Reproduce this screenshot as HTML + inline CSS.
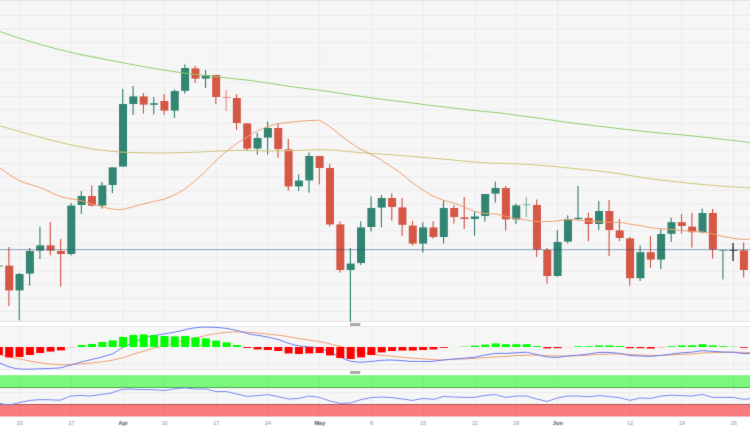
<!DOCTYPE html>
<html><head><meta charset="utf-8"><title>chart</title>
<style>
html,body{margin:0;padding:0;background:#fff;}
body{width:750px;height:430px;overflow:hidden;font-family:"Liberation Sans",sans-serif;}
svg{display:block;}
text{font-family:"Liberation Sans",sans-serif;}
</style></head><body>
<svg width="750" height="430" viewBox="0 0 750 430">
<rect x="-10" y="-10" width="770" height="450" fill="#fff"/>
<defs><filter id="sf" x="-5" y="-5" width="760" height="440" filterUnits="userSpaceOnUse" color-interpolation-filters="sRGB"><feConvolveMatrix order="3" preserveAlpha="true" edgeMode="duplicate" kernelMatrix="0.0064 0.0672 0.0064 0.0672 0.7056 0.0672 0.0064 0.0672 0.0064"/></filter></defs>
<g filter="url(#sf)">
<rect x="-10" y="-10" width="770" height="450" fill="#fff"/>
<rect x="-10" y="-10" width="770" height="11" fill="#e0e3eb"/>
<rect x="-10" y="1" width="770" height="321" fill="#f6f6f6"/>
<rect x="-10" y="326.3" width="770" height="43.5" fill="#f6f6f6"/>
<rect x="-10" y="375" width="770" height="41.6" fill="#f6f6f6"/>
<g stroke="#ececec" stroke-width="1">
<line x1="-10" x2="760" y1="15.60" y2="15.60"/>
<line x1="-10" x2="760" y1="29.05" y2="29.05"/>
<line x1="-10" x2="760" y1="42.51" y2="42.51"/>
<line x1="-10" x2="760" y1="55.97" y2="55.97"/>
<line x1="-10" x2="760" y1="69.42" y2="69.42"/>
<line x1="-10" x2="760" y1="82.88" y2="82.88"/>
<line x1="-10" x2="760" y1="96.33" y2="96.33"/>
<line x1="-10" x2="760" y1="109.78" y2="109.78"/>
<line x1="-10" x2="760" y1="123.24" y2="123.24"/>
<line x1="-10" x2="760" y1="136.69" y2="136.69"/>
<line x1="-10" x2="760" y1="150.15" y2="150.15"/>
<line x1="-10" x2="760" y1="163.60" y2="163.60"/>
<line x1="-10" x2="760" y1="177.06" y2="177.06"/>
<line x1="-10" x2="760" y1="190.51" y2="190.51"/>
<line x1="-10" x2="760" y1="203.97" y2="203.97"/>
<line x1="-10" x2="760" y1="217.42" y2="217.42"/>
<line x1="-10" x2="760" y1="230.88" y2="230.88"/>
<line x1="-10" x2="760" y1="244.34" y2="244.34"/>
<line x1="-10" x2="760" y1="257.79" y2="257.79"/>
<line x1="-10" x2="760" y1="271.25" y2="271.25"/>
<line x1="-10" x2="760" y1="284.70" y2="284.70"/>
<line x1="-10" x2="760" y1="298.16" y2="298.16"/>
<line x1="-10" x2="760" y1="311.61" y2="311.61"/>
<line x1="-10" x2="760" y1="364.30" y2="364.30"/>
<line x1="-10" x2="760" y1="392.40" y2="392.40"/>
<line x1="19.55" x2="19.55" y1="1" y2="321.6"/>
<line x1="19.55" x2="19.55" y1="326.5" y2="369.6"/>
<line x1="19.55" x2="19.55" y1="375" y2="416.5"/>
<line x1="71.29" x2="71.29" y1="1" y2="321.6"/>
<line x1="71.29" x2="71.29" y1="326.5" y2="369.6"/>
<line x1="71.29" x2="71.29" y1="375" y2="416.5"/>
<line x1="123.03" x2="123.03" y1="1" y2="321.6"/>
<line x1="123.03" x2="123.03" y1="326.5" y2="369.6"/>
<line x1="123.03" x2="123.03" y1="375" y2="416.5"/>
<line x1="164.42" x2="164.42" y1="1" y2="321.6"/>
<line x1="164.42" x2="164.42" y1="326.5" y2="369.6"/>
<line x1="164.42" x2="164.42" y1="375" y2="416.5"/>
<line x1="216.16" x2="216.16" y1="1" y2="321.6"/>
<line x1="216.16" x2="216.16" y1="326.5" y2="369.6"/>
<line x1="216.16" x2="216.16" y1="375" y2="416.5"/>
<line x1="267.90" x2="267.90" y1="1" y2="321.6"/>
<line x1="267.90" x2="267.90" y1="326.5" y2="369.6"/>
<line x1="267.90" x2="267.90" y1="375" y2="416.5"/>
<line x1="319.64" x2="319.64" y1="1" y2="321.6"/>
<line x1="319.64" x2="319.64" y1="326.5" y2="369.6"/>
<line x1="319.64" x2="319.64" y1="375" y2="416.5"/>
<line x1="371.38" x2="371.38" y1="1" y2="321.6"/>
<line x1="371.38" x2="371.38" y1="326.5" y2="369.6"/>
<line x1="371.38" x2="371.38" y1="375" y2="416.5"/>
<line x1="423.12" x2="423.12" y1="1" y2="321.6"/>
<line x1="423.12" x2="423.12" y1="326.5" y2="369.6"/>
<line x1="423.12" x2="423.12" y1="375" y2="416.5"/>
<line x1="474.86" x2="474.86" y1="1" y2="321.6"/>
<line x1="474.86" x2="474.86" y1="326.5" y2="369.6"/>
<line x1="474.86" x2="474.86" y1="375" y2="416.5"/>
<line x1="516.25" x2="516.25" y1="1" y2="321.6"/>
<line x1="516.25" x2="516.25" y1="326.5" y2="369.6"/>
<line x1="516.25" x2="516.25" y1="375" y2="416.5"/>
<line x1="557.64" x2="557.64" y1="1" y2="321.6"/>
<line x1="557.64" x2="557.64" y1="326.5" y2="369.6"/>
<line x1="557.64" x2="557.64" y1="375" y2="416.5"/>
<line x1="630.08" x2="630.08" y1="1" y2="321.6"/>
<line x1="630.08" x2="630.08" y1="326.5" y2="369.6"/>
<line x1="630.08" x2="630.08" y1="375" y2="416.5"/>
<line x1="681.82" x2="681.82" y1="1" y2="321.6"/>
<line x1="681.82" x2="681.82" y1="326.5" y2="369.6"/>
<line x1="681.82" x2="681.82" y1="375" y2="416.5"/>
<line x1="733.56" x2="733.56" y1="1" y2="321.6"/>
<line x1="733.56" x2="733.56" y1="326.5" y2="369.6"/>
<line x1="733.56" x2="733.56" y1="375" y2="416.5"/>
</g>
<g fill="#e0e3eb"><rect x="-10" y="320.9" width="770" height="1.1"/><rect x="-10" y="326" width="770" height="0.7"/><rect x="-10" y="369.4" width="770" height="0.7"/><rect x="-10" y="416.3" width="770" height="0.7"/></g>
<rect x="-2.02" y="265.6" width="1.15" height="0.8" fill="#328572"/>
<rect x="-5.15" y="265.6" width="8" height="0.8" fill="#328572"/>
<rect x="8.32" y="247.0" width="1.15" height="59.0" fill="#d55746"/>
<rect x="5.20" y="265.6" width="8" height="24.8" fill="#d55746"/>
<rect x="18.67" y="273.0" width="1.15" height="47.4" fill="#328572"/>
<rect x="15.55" y="274.0" width="8" height="16.4" fill="#328572"/>
<rect x="29.02" y="248.0" width="1.15" height="37.6" fill="#328572"/>
<rect x="25.89" y="251.0" width="8" height="22.6" fill="#328572"/>
<rect x="39.37" y="227.0" width="1.15" height="32.0" fill="#328572"/>
<rect x="36.24" y="245.4" width="8" height="5.2" fill="#328572"/>
<rect x="49.72" y="222.0" width="1.15" height="33.4" fill="#d55746"/>
<rect x="46.59" y="245.4" width="8" height="5.2" fill="#d55746"/>
<rect x="60.06" y="239.0" width="1.15" height="47.6" fill="#d55746"/>
<rect x="56.94" y="251.0" width="8" height="3.0" fill="#d55746"/>
<rect x="70.41" y="203.0" width="1.15" height="52.4" fill="#328572"/>
<rect x="67.29" y="205.6" width="8" height="48.4" fill="#328572"/>
<rect x="80.76" y="191.0" width="1.15" height="23.0" fill="#328572"/>
<rect x="77.63" y="196.0" width="8" height="9.0" fill="#328572"/>
<rect x="91.11" y="185.6" width="1.15" height="21.0" fill="#d55746"/>
<rect x="87.98" y="196.0" width="8" height="9.6" fill="#d55746"/>
<rect x="101.45" y="182.0" width="1.15" height="26.6" fill="#328572"/>
<rect x="98.33" y="185.4" width="8" height="20.2" fill="#328572"/>
<rect x="111.80" y="167.4" width="1.15" height="25.6" fill="#328572"/>
<rect x="108.68" y="167.4" width="8" height="17.6" fill="#328572"/>
<rect x="122.15" y="89.0" width="1.15" height="77.6" fill="#328572"/>
<rect x="119.03" y="104.0" width="8" height="62.6" fill="#328572"/>
<rect x="132.50" y="86.0" width="1.15" height="29.0" fill="#328572"/>
<rect x="129.37" y="96.4" width="8" height="7.6" fill="#328572"/>
<rect x="142.85" y="93.0" width="1.15" height="20.6" fill="#d55746"/>
<rect x="139.72" y="96.4" width="8" height="8.2" fill="#d55746"/>
<rect x="153.19" y="97.0" width="1.15" height="17.4" fill="#328572"/>
<rect x="150.07" y="103.2" width="8" height="1.6" fill="#328572"/>
<rect x="163.54" y="94.0" width="1.15" height="21.0" fill="#d55746"/>
<rect x="160.42" y="101.0" width="8" height="9.6" fill="#d55746"/>
<rect x="173.89" y="89.4" width="1.15" height="28.6" fill="#328572"/>
<rect x="170.77" y="91.0" width="8" height="19.6" fill="#328572"/>
<rect x="184.24" y="64.4" width="1.15" height="29.2" fill="#328572"/>
<rect x="181.11" y="68.0" width="8" height="22.8" fill="#328572"/>
<rect x="194.59" y="66.0" width="1.15" height="17.0" fill="#d55746"/>
<rect x="191.46" y="68.4" width="8" height="10.2" fill="#d55746"/>
<rect x="204.94" y="70.0" width="1.15" height="18.0" fill="#328572"/>
<rect x="201.81" y="75.0" width="8" height="3.6" fill="#328572"/>
<rect x="215.28" y="75.0" width="1.15" height="29.0" fill="#d55746"/>
<rect x="212.16" y="75.0" width="8" height="22.0" fill="#d55746"/>
<rect x="225.63" y="90.0" width="1.15" height="21.0" fill="#d55746" fill-opacity="0.6"/>
<rect x="222.51" y="97.0" width="8" height="1.0" fill="#d55746" fill-opacity="0.6"/>
<rect x="235.98" y="94.4" width="1.15" height="35.6" fill="#d55746"/>
<rect x="232.85" y="98.0" width="8" height="25.0" fill="#d55746"/>
<rect x="246.33" y="123.4" width="1.15" height="27.2" fill="#d55746"/>
<rect x="243.20" y="123.4" width="8" height="25.2" fill="#d55746"/>
<rect x="256.68" y="133.0" width="1.15" height="21.6" fill="#328572"/>
<rect x="253.55" y="138.0" width="8" height="10.6" fill="#328572"/>
<rect x="267.02" y="121.6" width="1.15" height="33.0" fill="#328572"/>
<rect x="263.90" y="128.0" width="8" height="9.6" fill="#328572"/>
<rect x="277.37" y="123.6" width="1.15" height="34.2" fill="#d55746"/>
<rect x="274.25" y="128.0" width="8" height="21.0" fill="#d55746"/>
<rect x="287.72" y="139.0" width="1.15" height="51.6" fill="#d55746"/>
<rect x="284.59" y="149.4" width="8" height="37.0" fill="#d55746"/>
<rect x="298.07" y="174.4" width="1.15" height="16.6" fill="#328572"/>
<rect x="294.94" y="180.6" width="8" height="5.8" fill="#328572"/>
<rect x="308.42" y="152.4" width="1.15" height="40.2" fill="#328572"/>
<rect x="305.29" y="156.0" width="8" height="24.4" fill="#328572"/>
<rect x="318.76" y="156.0" width="1.15" height="28.4" fill="#d55746"/>
<rect x="315.64" y="156.0" width="8" height="12.0" fill="#d55746"/>
<rect x="329.11" y="164.0" width="1.15" height="62.4" fill="#d55746"/>
<rect x="325.99" y="168.0" width="8" height="56.4" fill="#d55746"/>
<rect x="339.46" y="221.4" width="1.15" height="51.2" fill="#d55746"/>
<rect x="336.33" y="224.4" width="8" height="45.6" fill="#d55746"/>
<rect x="349.81" y="248.0" width="1.15" height="73.6" fill="#328572"/>
<rect x="346.68" y="263.6" width="8" height="6.4" fill="#328572"/>
<rect x="360.16" y="221.4" width="1.15" height="43.6" fill="#328572"/>
<rect x="357.03" y="227.4" width="8" height="35.6" fill="#328572"/>
<rect x="370.50" y="196.4" width="1.15" height="35.0" fill="#328572"/>
<rect x="367.38" y="208.0" width="8" height="19.0" fill="#328572"/>
<rect x="380.85" y="195.0" width="1.15" height="32.4" fill="#328572"/>
<rect x="377.73" y="198.0" width="8" height="9.6" fill="#328572"/>
<rect x="391.20" y="193.4" width="1.15" height="27.2" fill="#d55746"/>
<rect x="388.07" y="198.0" width="8" height="9.0" fill="#d55746"/>
<rect x="401.55" y="198.0" width="1.15" height="38.0" fill="#d55746"/>
<rect x="398.42" y="207.4" width="8" height="17.4" fill="#d55746"/>
<rect x="411.90" y="221.0" width="1.15" height="24.6" fill="#d55746"/>
<rect x="408.77" y="225.6" width="8" height="18.0" fill="#d55746"/>
<rect x="422.24" y="222.4" width="1.15" height="30.2" fill="#328572"/>
<rect x="419.12" y="227.4" width="8" height="16.2" fill="#328572"/>
<rect x="432.59" y="221.0" width="1.15" height="17.6" fill="#d55746"/>
<rect x="429.47" y="227.4" width="8" height="9.6" fill="#d55746"/>
<rect x="442.94" y="200.4" width="1.15" height="43.2" fill="#328572"/>
<rect x="439.81" y="208.0" width="8" height="29.0" fill="#328572"/>
<rect x="453.29" y="205.0" width="1.15" height="18.6" fill="#d55746"/>
<rect x="450.16" y="208.0" width="8" height="9.0" fill="#d55746"/>
<rect x="463.64" y="197.0" width="1.15" height="32.0" fill="#d55746"/>
<rect x="460.51" y="217.4" width="8" height="1.6" fill="#d55746"/>
<rect x="473.98" y="211.4" width="1.15" height="24.2" fill="#328572"/>
<rect x="470.86" y="216.4" width="8" height="2.6" fill="#328572"/>
<rect x="484.33" y="194.0" width="1.15" height="27.6" fill="#328572"/>
<rect x="481.21" y="194.0" width="8" height="22.0" fill="#328572"/>
<rect x="494.68" y="181.6" width="1.15" height="21.0" fill="#328572"/>
<rect x="491.55" y="188.0" width="8" height="5.6" fill="#328572"/>
<rect x="505.03" y="186.0" width="1.15" height="44.6" fill="#d55746"/>
<rect x="501.90" y="188.0" width="8" height="31.4" fill="#d55746"/>
<rect x="515.38" y="203.6" width="1.15" height="20.4" fill="#328572"/>
<rect x="512.25" y="205.4" width="8" height="14.0" fill="#328572"/>
<rect x="525.72" y="197.0" width="1.15" height="20.0" fill="#328572" fill-opacity="0.6"/>
<rect x="522.60" y="204.4" width="8" height="0.8" fill="#328572" fill-opacity="0.6"/>
<rect x="536.07" y="199.6" width="1.15" height="57.4" fill="#d55746"/>
<rect x="532.95" y="205.0" width="8" height="44.5" fill="#d55746"/>
<rect x="546.42" y="248.0" width="1.15" height="35.6" fill="#d55746"/>
<rect x="543.29" y="250.0" width="8" height="26.0" fill="#d55746"/>
<rect x="556.77" y="230.0" width="1.15" height="46.6" fill="#328572"/>
<rect x="553.64" y="242.0" width="8" height="34.0" fill="#328572"/>
<rect x="567.12" y="215.3" width="1.15" height="28.1" fill="#328572"/>
<rect x="563.99" y="219.0" width="8" height="22.6" fill="#328572"/>
<rect x="577.46" y="186.0" width="1.15" height="34.0" fill="#328572"/>
<rect x="574.34" y="217.8" width="8" height="1.2" fill="#328572"/>
<rect x="587.81" y="212.8" width="1.15" height="28.4" fill="#d55746"/>
<rect x="584.69" y="218.0" width="8" height="6.0" fill="#d55746"/>
<rect x="598.16" y="201.0" width="1.15" height="29.0" fill="#328572"/>
<rect x="595.03" y="211.0" width="8" height="13.0" fill="#328572"/>
<rect x="608.51" y="200.0" width="1.15" height="56.0" fill="#d55746"/>
<rect x="605.38" y="211.0" width="8" height="19.0" fill="#d55746"/>
<rect x="618.86" y="219.0" width="1.15" height="22.0" fill="#d55746"/>
<rect x="615.73" y="230.4" width="8" height="7.6" fill="#d55746"/>
<rect x="629.20" y="237.0" width="1.15" height="48.6" fill="#d55746"/>
<rect x="626.08" y="238.4" width="8" height="39.8" fill="#d55746"/>
<rect x="639.55" y="245.6" width="1.15" height="35.4" fill="#328572"/>
<rect x="636.43" y="252.2" width="8" height="26.0" fill="#328572"/>
<rect x="649.90" y="236.0" width="1.15" height="31.8" fill="#d55746"/>
<rect x="646.77" y="252.2" width="8" height="7.4" fill="#d55746"/>
<rect x="660.25" y="229.2" width="1.15" height="40.0" fill="#328572"/>
<rect x="657.12" y="234.0" width="8" height="25.6" fill="#328572"/>
<rect x="670.60" y="217.8" width="1.15" height="24.2" fill="#328572"/>
<rect x="667.47" y="222.2" width="8" height="11.6" fill="#328572"/>
<rect x="680.94" y="214.0" width="1.15" height="19.5" fill="#d55746"/>
<rect x="677.82" y="222.2" width="8" height="3.8" fill="#d55746"/>
<rect x="691.29" y="213.0" width="1.15" height="34.6" fill="#d55746"/>
<rect x="688.17" y="226.6" width="8" height="5.6" fill="#d55746"/>
<rect x="701.64" y="208.6" width="1.15" height="24.8" fill="#328572"/>
<rect x="698.51" y="213.0" width="8" height="19.2" fill="#328572"/>
<rect x="711.99" y="209.0" width="1.15" height="49.6" fill="#d55746"/>
<rect x="708.86" y="213.0" width="8" height="36.6" fill="#d55746"/>
<rect x="722.36" y="250.0" width="1.1" height="29.5" fill="#328572"/>
<rect x="719.21" y="250.0" width="8" height="0.9" fill="#328572" fill-opacity="0.65"/>
<rect x="732.33" y="243.0" width="1.45" height="18.0" fill="#3a3a3a"/>
<rect x="729.56" y="249.9" width="8" height="1.0" fill="#3a3a3a" fill-opacity="0.85"/>
<rect x="743.03" y="242.4" width="1.15" height="35.0" fill="#d55746"/>
<rect x="739.91" y="250.4" width="8" height="19.6" fill="#d55746"/>
<line x1="-10" x2="760" y1="249.7" y2="249.7" stroke="#1f4480" stroke-opacity="0.48" stroke-width="1"/>
<path fill="none" stroke="#8fd072" stroke-width="1" d="M-2.0,31.0C-1.7,31.1 -3.7,30.4 0.0,31.6C3.7,32.8 13.3,36.3 20.0,38.4C26.7,40.5 33.3,42.5 40.0,44.4C46.7,46.3 53.3,48.1 60.0,49.8C66.7,51.5 73.3,53.0 80.0,54.4C86.7,55.8 93.3,57.1 100.0,58.4C106.7,59.7 113.3,60.9 120.0,62.2C126.7,63.5 133.3,64.8 140.0,66.0C146.7,67.2 153.3,68.4 160.0,69.5C166.7,70.6 173.3,71.6 180.0,72.5C186.7,73.4 193.3,74.2 200.0,75.0C206.7,75.8 213.3,76.5 220.0,77.2C226.7,77.9 235.0,78.9 240.0,79.4C245.0,79.9 245.0,79.8 250.0,80.4C255.0,81.1 263.3,82.3 270.0,83.3C276.7,84.3 283.3,85.5 290.0,86.5C296.7,87.5 303.3,88.1 310.0,89.0C316.7,89.9 323.3,90.8 330.0,91.7C336.7,92.7 343.3,93.7 350.0,94.7C356.7,95.7 363.3,96.8 370.0,97.7C376.7,98.6 383.3,99.5 390.0,100.3C396.7,101.1 403.3,101.9 410.0,102.7C416.7,103.5 423.3,104.5 430.0,105.3C436.7,106.1 443.3,106.9 450.0,107.7C456.7,108.5 463.3,109.3 470.0,110.0C476.7,110.7 485.0,111.5 490.0,112.0C495.0,112.5 495.0,112.4 500.0,113.0C505.0,113.6 513.3,114.8 520.0,115.7C526.7,116.6 533.3,117.4 540.0,118.3C546.7,119.2 553.3,120.3 560.0,121.3C566.7,122.2 573.3,123.2 580.0,124.0C586.7,124.8 593.3,125.5 600.0,126.3C606.7,127.1 613.3,127.9 620.0,128.7C626.7,129.5 633.3,130.3 640.0,131.0C646.7,131.7 653.3,132.4 660.0,133.0C666.7,133.6 673.3,134.1 680.0,134.7C686.7,135.3 693.3,136.0 700.0,136.7C706.7,137.4 713.3,138.2 720.0,139.0C726.7,139.8 734.7,140.6 740.0,141.3C745.3,142.0 750.0,142.7 752.0,143.0"/>
<path fill="none" stroke="#d0c67a" stroke-width="1" d="M-2.0,125.5C-1.7,125.6 -3.7,125.0 0.0,126.0C3.7,127.0 13.3,129.8 20.0,131.7C26.7,133.6 33.3,135.5 40.0,137.3C46.7,139.1 53.3,140.7 60.0,142.3C66.7,143.9 73.3,145.4 80.0,146.7C86.7,148.0 93.3,149.1 100.0,150.0C106.7,150.9 113.3,151.6 120.0,152.0C126.7,152.4 133.3,152.5 140.0,152.7C146.7,152.9 153.3,153.0 160.0,153.0C166.7,153.0 173.3,152.9 180.0,152.7C186.7,152.5 193.3,152.3 200.0,152.0C206.7,151.7 213.3,151.3 220.0,151.0C226.7,150.7 235.0,150.5 240.0,150.4C245.0,150.3 245.0,150.5 250.0,150.6C255.0,150.7 263.3,151.0 270.0,151.0C276.7,151.0 283.3,150.9 290.0,150.7C296.7,150.5 305.0,150.2 310.0,150.0C315.0,149.8 316.7,149.7 320.0,149.7C323.3,149.7 325.0,149.7 330.0,150.0C335.0,150.3 343.3,151.1 350.0,151.7C356.7,152.3 363.3,152.9 370.0,153.4C376.7,153.9 383.3,154.2 390.0,154.7C396.7,155.2 403.3,155.8 410.0,156.3C416.7,156.9 423.3,157.4 430.0,158.0C436.7,158.6 443.3,159.1 450.0,159.7C456.7,160.3 463.3,161.1 470.0,161.7C476.7,162.2 485.0,162.7 490.0,163.0C495.0,163.3 495.0,163.1 500.0,163.3C505.0,163.5 513.3,163.7 520.0,164.0C526.7,164.3 533.3,164.8 540.0,165.3C546.7,165.8 553.3,166.3 560.0,167.0C566.7,167.7 573.3,168.5 580.0,169.2C586.7,169.9 593.3,170.4 600.0,171.2C606.7,172.0 613.3,172.8 620.0,173.8C626.7,174.8 633.3,176.2 640.0,177.2C646.7,178.2 653.3,179.2 660.0,180.0C666.7,180.8 673.3,181.5 680.0,182.2C686.7,182.9 693.3,183.7 700.0,184.3C706.7,184.9 713.3,185.5 720.0,186.0C726.7,186.5 734.7,187.0 740.0,187.3C745.3,187.6 750.0,187.9 752.0,188.0"/>
<path fill="none" stroke="#f0a070" stroke-width="1" stroke-linejoin="round" d="M-2.0,166.5C-1.7,166.8 -2.0,166.6 0.0,168.0C2.0,169.4 6.7,172.8 10.0,175.0C13.3,177.2 16.7,179.4 20.0,181.0C23.3,182.6 26.7,183.3 30.0,184.4C33.3,185.5 36.7,186.1 40.0,187.4C43.3,188.7 46.7,190.5 50.0,192.0C53.3,193.5 56.7,195.3 60.0,196.4C63.3,197.5 66.7,197.9 70.0,198.6C73.3,199.3 76.7,199.6 80.0,200.4C83.3,201.2 86.7,202.4 90.0,203.4C93.3,204.4 96.7,205.3 100.0,206.2C103.3,207.1 107.3,208.2 110.0,208.7C112.7,209.2 114.0,209.2 116.0,209.3C118.0,209.4 119.1,209.8 122.0,209.4C124.9,209.0 129.8,207.6 133.3,206.7C136.9,205.8 140.0,204.9 143.3,204.0C146.6,203.1 150.0,202.3 153.3,201.5C156.6,200.7 160.0,200.3 163.3,199.3C166.6,198.3 170.0,196.9 173.3,195.3C176.6,193.8 180.0,192.2 183.3,190.0C186.6,187.8 190.0,185.1 193.3,182.3C196.6,179.5 200.0,176.5 203.3,173.3C206.6,170.1 210.0,166.5 213.3,163.3C216.6,160.1 220.0,156.9 223.3,154.0C226.6,151.1 230.0,148.4 233.3,146.0C236.6,143.6 240.0,141.4 243.3,139.3C246.6,137.2 250.0,135.1 253.3,133.3C256.6,131.5 259.4,129.9 263.3,128.3C267.2,126.8 272.2,125.0 276.7,124.0C281.1,123.0 285.6,122.8 290.0,122.3C294.4,121.8 299.6,121.3 303.3,121.0C307.0,120.7 309.3,120.6 312.0,120.5C314.7,120.4 318.2,120.2 319.4,120.2 M319.4,120.2C321.2,121.3 326.6,124.4 330.0,126.8C333.4,129.2 336.7,132.2 340.0,134.8C343.3,137.4 346.7,140.0 350.0,142.3C353.3,144.7 356.7,147.0 360.0,148.9C363.3,150.8 366.7,151.9 370.0,153.6C373.3,155.3 376.7,157.2 380.0,159.3C383.3,161.4 386.7,163.8 390.0,166.0C393.3,168.2 396.7,170.0 400.0,172.5C403.3,175.0 406.2,178.1 410.0,181.0C413.8,183.9 419.2,187.5 423.0,190.0C426.8,192.5 429.5,194.3 433.0,196.0C436.5,197.7 440.5,199.2 444.0,200.4C447.5,201.6 450.7,201.9 454.0,203.0C457.3,204.1 460.6,205.6 464.0,207.0C467.4,208.4 471.1,210.3 474.6,211.4C478.1,212.5 481.5,213.0 485.0,213.4C488.5,213.8 491.9,213.5 495.4,214.0C498.9,214.5 502.4,215.6 505.8,216.4C509.2,217.2 512.6,218.0 516.0,218.6C519.4,219.2 522.9,219.5 526.4,220.0C529.9,220.5 532.9,221.2 536.8,221.4C540.7,221.7 546.5,221.6 550.0,221.5C553.5,221.4 555.0,221.1 558.0,220.8C561.0,220.5 564.7,219.7 568.0,219.6C571.3,219.5 574.7,220.0 578.0,220.2C581.3,220.4 584.5,220.8 588.0,221.0C591.5,221.2 595.5,221.5 599.0,221.7C602.5,221.9 605.5,222.1 609.0,222.2C612.5,222.3 616.5,222.0 620.0,222.3C623.5,222.6 626.7,223.6 630.0,224.2C633.3,224.8 636.6,225.0 640.0,225.6C643.4,226.2 647.1,227.2 650.6,227.7C654.1,228.2 657.5,228.4 661.0,228.7C664.5,229.0 668.0,229.1 671.4,229.4C674.8,229.7 678.2,230.1 681.6,230.4C685.0,230.7 688.5,231.1 692.0,231.4C695.5,231.7 698.9,231.6 702.4,232.0C705.9,232.4 709.4,233.3 712.8,234.0C716.2,234.7 719.6,235.7 723.0,236.4C726.4,237.1 729.9,237.9 733.4,238.4C736.9,238.9 740.7,239.3 743.8,239.4C746.9,239.5 750.6,239.1 752.0,239.0"/>
<rect x="-10" y="375.2" width="770" height="12" fill="#7bf77b"/>
<rect x="-10" y="387" width="770" height="1" fill="#4fae4f"/>
<rect x="-10" y="404.6" width="770" height="11.8" fill="#f97b7b"/>
<rect x="-10" y="404" width="770" height="1" fill="#b55858"/>
<g stroke="#000" stroke-opacity="0.035" stroke-width="1">
<line x1="19.55" x2="19.55" y1="375" y2="387"/><line x1="19.55" x2="19.55" y1="405" y2="416.3"/>
<line x1="71.29" x2="71.29" y1="375" y2="387"/><line x1="71.29" x2="71.29" y1="405" y2="416.3"/>
<line x1="123.03" x2="123.03" y1="375" y2="387"/><line x1="123.03" x2="123.03" y1="405" y2="416.3"/>
<line x1="164.42" x2="164.42" y1="375" y2="387"/><line x1="164.42" x2="164.42" y1="405" y2="416.3"/>
<line x1="216.16" x2="216.16" y1="375" y2="387"/><line x1="216.16" x2="216.16" y1="405" y2="416.3"/>
<line x1="267.90" x2="267.90" y1="375" y2="387"/><line x1="267.90" x2="267.90" y1="405" y2="416.3"/>
<line x1="319.64" x2="319.64" y1="375" y2="387"/><line x1="319.64" x2="319.64" y1="405" y2="416.3"/>
<line x1="371.38" x2="371.38" y1="375" y2="387"/><line x1="371.38" x2="371.38" y1="405" y2="416.3"/>
<line x1="423.12" x2="423.12" y1="375" y2="387"/><line x1="423.12" x2="423.12" y1="405" y2="416.3"/>
<line x1="474.86" x2="474.86" y1="375" y2="387"/><line x1="474.86" x2="474.86" y1="405" y2="416.3"/>
<line x1="516.25" x2="516.25" y1="375" y2="387"/><line x1="516.25" x2="516.25" y1="405" y2="416.3"/>
<line x1="557.64" x2="557.64" y1="375" y2="387"/><line x1="557.64" x2="557.64" y1="405" y2="416.3"/>
<line x1="630.08" x2="630.08" y1="375" y2="387"/><line x1="630.08" x2="630.08" y1="405" y2="416.3"/>
<line x1="681.82" x2="681.82" y1="375" y2="387"/><line x1="681.82" x2="681.82" y1="405" y2="416.3"/>
<line x1="733.56" x2="733.56" y1="375" y2="387"/><line x1="733.56" x2="733.56" y1="405" y2="416.3"/>
</g>
<polyline fill="none" stroke="#f0a070" stroke-width="1" stroke-linejoin="round" points="-2.0,354.4 0.0,354.7 6.7,356.4 13.3,357.7 20.0,359.1 26.7,360.4 33.3,361.7 40.0,362.7 46.7,363.6 53.3,364.3 60.0,364.7 66.7,364.7 73.3,364.4 80.0,364.0 86.7,363.3 93.3,362.7 100.0,362.2 112.8,360.2 123.5,357.5 135.3,353.6 147.0,350.1 158.8,346.9 169.5,344.2 180.0,341.5 186.7,340.0 193.3,338.4 200.0,336.9 206.7,335.3 213.3,334.0 220.0,333.1 226.7,332.4 233.3,332.0 240.0,331.9 246.7,332.1 253.3,332.7 260.0,333.3 266.7,334.0 273.3,334.7 280.0,335.4 286.7,336.3 293.3,337.6 300.0,338.7 306.7,339.7 313.3,340.7 320.0,341.7 326.7,343.1 333.3,344.7 340.0,346.3 344.0,347.3 354.7,350.4 366.7,353.3 376.0,354.7 380.0,355.2 390.0,356.0 400.0,357.0 410.0,358.0 420.0,358.6 430.0,359.4 440.0,360.0 450.0,359.6 462.0,359.0 474.0,358.4 485.0,357.6 495.4,357.0 505.8,356.4 516.0,355.6 526.4,355.2 536.8,355.2 547.2,355.6 557.4,356.0 567.8,356.0 578.2,355.6 588.6,355.2 599.0,354.4 609.2,354.0 619.6,354.0 630.0,354.4 640.2,355.0 650.6,355.4 661.0,355.4 671.4,355.0 681.6,354.4 692.0,354.0 702.4,353.0 712.8,352.6 723.0,352.4 733.4,352.2 743.8,352.4 752.0,352.6"/>
<polyline fill="none" stroke="#6b7cf5" stroke-width="1" stroke-linejoin="round" points="-2.0,362.4 0.0,363.1 6.7,366.0 13.3,368.0 20.0,369.1 29.3,369.2 40.0,368.8 50.7,368.4 60.0,368.0 66.7,366.0 72.0,364.7 80.0,362.3 86.7,360.7 93.3,359.1 100.0,357.5 106.0,355.8 113.0,353.7 119.0,349.8 124.0,346.9 128.0,344.8 138.0,340.4 148.7,336.7 158.8,334.8 168.4,333.3 180.0,331.0 186.7,329.3 193.3,328.0 200.0,327.3 206.7,327.1 213.3,327.3 220.0,327.7 226.7,328.4 233.3,329.7 240.0,331.3 246.7,333.3 253.3,334.7 260.0,335.7 266.7,336.9 273.3,338.4 280.0,340.0 286.7,342.7 293.3,344.7 300.0,346.0 306.7,346.7 314.7,347.3 320.0,348.0 326.7,350.7 333.3,354.0 340.0,356.9 346.7,360.0 350.7,361.3 360.0,362.3 366.7,361.8 373.3,361.3 380.0,360.4 390.0,360.0 400.0,360.4 410.0,361.4 420.0,361.4 430.0,361.6 440.0,360.4 450.0,359.3 462.0,358.4 474.0,357.4 485.0,355.0 495.4,353.4 505.8,353.4 516.0,352.8 526.4,352.2 536.8,354.6 547.2,357.0 557.4,357.4 567.8,356.0 578.2,355.2 588.6,354.0 599.0,352.4 609.2,352.4 619.6,353.4 630.0,355.6 640.2,356.0 650.6,356.4 661.0,355.4 671.4,354.0 681.6,352.8 692.0,352.2 702.4,350.6 712.8,351.4 723.0,352.0 733.4,352.2 743.8,353.6 752.0,353.6"/>
<rect x="-5.15" y="347.0" width="8" height="8.0" fill="#ff0000"/>
<rect x="5.20" y="347.0" width="8" height="10.4" fill="#ff0000"/>
<rect x="15.55" y="347.0" width="8" height="10.0" fill="#ff0000"/>
<rect x="25.89" y="347.0" width="8" height="8.0" fill="#ff0000"/>
<rect x="36.24" y="347.0" width="8" height="6.0" fill="#ff0000"/>
<rect x="46.59" y="347.0" width="8" height="4.6" fill="#ff0000"/>
<rect x="56.94" y="347.0" width="8" height="3.4" fill="#ff0000"/>
<rect x="67.29" y="347.0" width="8" height="0.5" fill="#ff9a9a"/>
<rect x="77.63" y="345.0" width="8" height="2.0" fill="#00ff00"/>
<rect x="87.98" y="344.0" width="8" height="3.0" fill="#00ff00"/>
<rect x="98.33" y="342.0" width="8" height="5.0" fill="#00ff00"/>
<rect x="108.68" y="340.4" width="8" height="6.6" fill="#00ff00"/>
<rect x="119.03" y="337.0" width="8" height="10.0" fill="#00ff00"/>
<rect x="129.37" y="335.0" width="8" height="12.0" fill="#00ff00"/>
<rect x="139.72" y="334.4" width="8" height="12.6" fill="#00ff00"/>
<rect x="150.07" y="335.0" width="8" height="12.0" fill="#00ff00"/>
<rect x="160.42" y="336.0" width="8" height="11.0" fill="#00ff00"/>
<rect x="170.77" y="336.4" width="8" height="10.6" fill="#00ff00"/>
<rect x="181.11" y="336.0" width="8" height="11.0" fill="#00ff00"/>
<rect x="191.46" y="337.4" width="8" height="9.6" fill="#00ff00"/>
<rect x="201.81" y="338.4" width="8" height="8.6" fill="#00ff00"/>
<rect x="212.16" y="340.6" width="8" height="6.4" fill="#00ff00"/>
<rect x="222.51" y="342.4" width="8" height="4.6" fill="#00ff00"/>
<rect x="232.85" y="345.0" width="8" height="2.0" fill="#00ff00"/>
<rect x="243.20" y="347.0" width="8" height="1.0" fill="#ff0000"/>
<rect x="253.55" y="347.0" width="8" height="2.4" fill="#ff0000"/>
<rect x="263.90" y="347.0" width="8" height="3.0" fill="#ff0000"/>
<rect x="274.25" y="347.0" width="8" height="4.0" fill="#ff0000"/>
<rect x="284.59" y="347.0" width="8" height="6.4" fill="#ff0000"/>
<rect x="294.94" y="347.0" width="8" height="7.0" fill="#ff0000"/>
<rect x="305.29" y="347.0" width="8" height="6.4" fill="#ff0000"/>
<rect x="315.64" y="347.0" width="8" height="6.0" fill="#ff0000"/>
<rect x="325.99" y="347.0" width="8" height="8.4" fill="#ff0000"/>
<rect x="336.33" y="347.0" width="8" height="11.0" fill="#ff0000"/>
<rect x="346.68" y="347.0" width="8" height="12.0" fill="#ff0000"/>
<rect x="357.03" y="347.0" width="8" height="10.4" fill="#ff0000"/>
<rect x="367.38" y="347.0" width="8" height="8.0" fill="#ff0000"/>
<rect x="377.73" y="347.0" width="8" height="5.4" fill="#ff0000"/>
<rect x="388.07" y="347.0" width="8" height="4.0" fill="#ff0000"/>
<rect x="398.42" y="347.0" width="8" height="3.6" fill="#ff0000"/>
<rect x="408.77" y="347.0" width="8" height="3.6" fill="#ff0000"/>
<rect x="419.12" y="347.0" width="8" height="3.0" fill="#ff0000"/>
<rect x="429.47" y="347.0" width="8" height="2.4" fill="#ff0000"/>
<rect x="439.81" y="347.0" width="8" height="0.9" fill="#ff0000"/>
<rect x="450.16" y="346.8" width="8" height="0.5" fill="#c8f8c8"/>
<rect x="460.51" y="346.3" width="8" height="0.7" fill="#70f570"/>
<rect x="470.86" y="345.6" width="8" height="1.4" fill="#00ff00"/>
<rect x="481.21" y="344.6" width="8" height="2.4" fill="#00ff00"/>
<rect x="491.55" y="343.4" width="8" height="3.6" fill="#00ff00"/>
<rect x="501.90" y="344.2" width="8" height="2.8" fill="#00ff00"/>
<rect x="512.25" y="344.2" width="8" height="2.8" fill="#00ff00"/>
<rect x="522.60" y="344.2" width="8" height="2.8" fill="#00ff00"/>
<rect x="532.95" y="346.0" width="8" height="1.0" fill="#00ff00"/>
<rect x="543.29" y="347.0" width="8" height="1.4" fill="#ff0000"/>
<rect x="553.64" y="347.0" width="8" height="1.2" fill="#ff0000"/>
<rect x="563.99" y="347.0" width="8" height="0.5" fill="#ffc0c0"/>
<rect x="574.34" y="346.2" width="8" height="0.8" fill="#00ff00"/>
<rect x="584.69" y="346.2" width="8" height="0.8" fill="#00ff00"/>
<rect x="595.03" y="345.4" width="8" height="1.6" fill="#00ff00"/>
<rect x="605.38" y="345.4" width="8" height="1.6" fill="#00ff00"/>
<rect x="615.73" y="346.0" width="8" height="1.0" fill="#00ff00"/>
<rect x="626.08" y="347.0" width="8" height="1.2" fill="#ff0000"/>
<rect x="636.43" y="347.0" width="8" height="1.2" fill="#ff0000"/>
<rect x="646.77" y="347.0" width="8" height="1.6" fill="#ff0000"/>
<rect x="657.12" y="347.0" width="8" height="0.6" fill="#ff9090"/>
<rect x="667.47" y="346.2" width="8" height="0.8" fill="#00ff00"/>
<rect x="677.82" y="345.4" width="8" height="1.6" fill="#00ff00"/>
<rect x="688.17" y="345.2" width="8" height="1.8" fill="#00ff00"/>
<rect x="698.51" y="344.2" width="8" height="2.8" fill="#00ff00"/>
<rect x="708.86" y="345.4" width="8" height="1.6" fill="#00ff00"/>
<rect x="719.21" y="346.2" width="8" height="0.8" fill="#00ff00"/>
<rect x="729.56" y="346.3" width="8" height="0.7" fill="#90f090"/>
<rect x="739.91" y="347.0" width="8" height="0.8" fill="#ff0000"/>
<polyline fill="none" stroke="#7080f5" stroke-opacity="0.92" stroke-width="1" stroke-linejoin="round" points="-2.0,403.2 0.0,403.5 5.0,404.4 9.0,404.8 14.0,404.0 20.0,402.4 30.0,400.4 40.0,399.6 50.0,399.8 60.0,400.2 71.0,396.0 80.0,395.4 90.0,396.0 100.0,394.6 110.0,393.4 122.0,389.4 130.0,389.0 140.0,389.6 150.0,389.6 164.0,390.4 174.0,389.0 185.0,387.8 195.4,389.0 206.0,389.0 216.0,391.6 226.4,391.6 236.8,394.0 247.2,396.4 257.4,395.6 267.8,394.6 278.2,396.6 288.6,399.0 299.0,398.4 309.2,396.0 319.6,397.4 330.0,401.0 340.2,403.4 350.6,403.0 361.0,399.6 371.4,397.6 381.6,397.0 392.0,397.6 402.4,399.0 412.8,400.4 423.0,398.4 433.4,399.4 443.8,396.4 454.0,397.0 464.4,397.4 474.6,397.4 485.0,395.4 495.4,394.6 505.8,397.4 516.0,396.0 526.4,396.0 536.8,399.0 547.2,401.4 557.4,398.0 567.8,396.0 578.2,396.0 588.6,396.8 599.0,395.6 609.2,396.6 619.6,397.6 630.0,400.4 640.2,398.0 650.6,398.4 661.0,396.0 671.4,395.2 681.6,395.6 692.0,396.0 702.4,394.4 712.8,397.4 723.0,397.4 733.4,397.4 743.8,399.4 752.0,398.4"/>
<rect x="350" y="323" width="10.3" height="3" fill="#aaaaaa"/>
<rect x="350" y="371" width="10.3" height="3" fill="#aaaaaa"/>
<defs><filter id="gs" x="0" y="415" width="750" height="15" filterUnits="userSpaceOnUse" color-interpolation-filters="sRGB"><feColorMatrix type="saturate" values="0"/><feConvolveMatrix order="3" preserveAlpha="false" edgeMode="none" kernelMatrix="0.012 0.086 0.012 0.086 0.608 0.086 0.012 0.086 0.012"/></filter></defs>
<g filter="url(#gs)">
<text transform="translate(19.75,425.3) scale(0.1)" text-anchor="middle" font-size="56" fill="#8a8a8a">20</text>
<text transform="translate(71.49,425.3) scale(0.1)" text-anchor="middle" font-size="56" fill="#8a8a8a">27</text>
<text transform="translate(123.23,425.3) scale(0.1)" text-anchor="middle" font-size="56" font-weight="bold" fill="#4a4a4a">Apr</text>
<text transform="translate(164.62,425.3) scale(0.1)" text-anchor="middle" font-size="56" fill="#8a8a8a">10</text>
<text transform="translate(216.36,425.3) scale(0.1)" text-anchor="middle" font-size="56" fill="#8a8a8a">17</text>
<text transform="translate(268.10,425.3) scale(0.1)" text-anchor="middle" font-size="56" fill="#8a8a8a">24</text>
<text transform="translate(319.84,425.3) scale(0.1)" text-anchor="middle" font-size="56" font-weight="bold" fill="#4a4a4a">May</text>
<text transform="translate(371.58,425.3) scale(0.1)" text-anchor="middle" font-size="56" fill="#8a8a8a">8</text>
<text transform="translate(423.32,425.3) scale(0.1)" text-anchor="middle" font-size="56" fill="#8a8a8a">15</text>
<text transform="translate(475.06,425.3) scale(0.1)" text-anchor="middle" font-size="56" fill="#8a8a8a">22</text>
<text transform="translate(516.45,425.3) scale(0.1)" text-anchor="middle" font-size="56" fill="#8a8a8a">26</text>
<text transform="translate(557.84,425.3) scale(0.1)" text-anchor="middle" font-size="56" font-weight="bold" fill="#4a4a4a">Jun</text>
<text transform="translate(630.28,425.3) scale(0.1)" text-anchor="middle" font-size="56" fill="#8a8a8a">12</text>
<text transform="translate(682.02,425.3) scale(0.1)" text-anchor="middle" font-size="56" fill="#8a8a8a">19</text>
<text transform="translate(733.76,425.3) scale(0.1)" text-anchor="middle" font-size="56" fill="#8a8a8a">26</text>
</g>
</g>
</svg></body></html>
